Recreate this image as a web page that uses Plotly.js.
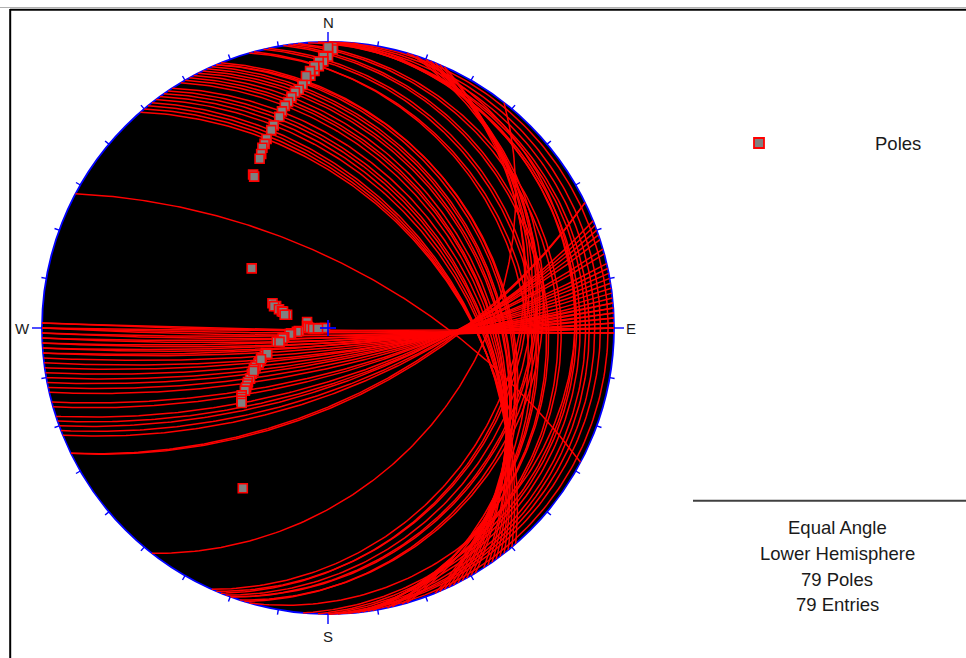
<!DOCTYPE html>
<html><head><meta charset="utf-8">
<script src="https://cdn.plot.ly/plotly-3.0.1.min.js"></script>
<style>html,body{margin:0;padding:0;background:#fff;overflow:hidden}#chart{width:966px;height:658px}</style>
</head><body><div id="chart"></div>
<script>
// Plane orientations (dip direction / dip, degrees)
const dipDirection = [
  181,181,180,180,180,179,179,178,178,177,177,176,176,175,175,174,173,172,171,170,169,168,167,165,164,162,161,160,159,158,154,154,
  128,
  114,113,112,111,110,110,108,107,
  106,95,92,90,86,88,90,90,88,
  84,83,82,81,78,77,75,74,
  68,67,66,64,63,62,61,59,57,56,55,54,53,52,51,50,49,67,65,60,
  28
];
const dip = [
  89,88.5,88,89,87,87,86,86,85,84,85,83,84,82,83,81,80,79.5,78.5,77.5,76.7,75.5,74.3,72.5,71.5,69.6,68.5,67.7,66.2,65.1,61.7,61,
  37.4,
  24,22.3,23,20.8,19.5,19,17.1,18,
  8.7,8.4,8,7.2,5.2,6,2.8,1.2,4,
  11.7,12.5,14.9,15.5,17.8,18.5,21,20,
  26.3,27,28.5,29.9,30.5,32,33,34.5,36,37.3,38,39,40,41.9,42.5,43.1,43.6,26,29,33.5,
  64.8
];
const cardinalLabels = ['N','E','S','W'];
const legendLabel = 'Poles';
const infoLines = ['Equal Angle','Lower Hemisphere','79 Poles','79 Entries'];

const D = Math.PI/180;
const W = 966, H = 658, CX = 328, CY = 328, R = 286;
const FONT = 'Arial, "Liberation Sans", sans-serif';

// great circles (equal angle, lower hemisphere)
const gx = [], gy = [];
for (let i = 0; i < dip.length; i++) {
  const dd = dipDirection[i]*D, dp = dip[i]*D, s = dd - Math.PI/2;
  const se = [Math.sin(s), Math.cos(s), 0];
  const dv = [Math.sin(dd)*Math.cos(dp), Math.cos(dd)*Math.cos(dp), -Math.sin(dp)];
  for (let a = 0; a <= 180; a += 1) {
    const ca = Math.cos(a*D), sa = Math.sin(a*D);
    const ve = ca*se[0]+sa*dv[0], vn = ca*se[1]+sa*dv[1], vz = ca*se[2]+sa*dv[2];
    const k = 1/(1 - vz);
    gx.push(ve*k); gy.push(vn*k);
  }
  gx.push(null); gy.push(null);
}
// poles
const px = [], py = [];
for (let i = 0; i < dip.length; i++) {
  const r = Math.tan(dip[i]*D/2), t = (dipDirection[i]+180)*D;
  px.push(r*Math.sin(t)); py.push(r*Math.cos(t));
}

const shapes = [];
// frame
shapes.push({type:'line',xref:'paper',yref:'paper',x0:0,x1:1,y0:1-7.5/H,y1:1-7.5/H,line:{color:'#b0b0b0',width:1}});
shapes.push({type:'line',xref:'paper',yref:'paper',x0:10/W,x1:1,y0:1-9.7/H,y1:1-9.7/H,line:{color:'#000',width:2}});
shapes.push({type:'line',xref:'paper',yref:'paper',x0:10.2/W,x1:10.2/W,y0:0,y1:1-9/H,line:{color:'#000',width:2}});
// primitive
shapes.push({type:'circle',xref:'x',yref:'y',x0:-1,x1:1,y0:-1,y1:1,fillcolor:'#000',line:{color:'#0000ff',width:1.8},layer:'below'});
// ticks every 10 degrees
for (let az = 0; az < 360; az += 10) {
  const len = (az % 90 === 0 ? 10 : 5)/R;
  const sx = Math.sin(az*D), cy = Math.cos(az*D);
  shapes.push({type:'line',xref:'x',yref:'y',x0:sx,y0:cy,x1:sx*(1+len),y1:cy*(1+len),line:{color:'#0000ff',width:1.4}});
}
// centre cross
const c = 8/R;
shapes.push({type:'line',xref:'x',yref:'y',x0:-c,x1:c,y0:0,y1:0,line:{color:'#0000ff',width:1.8}});
shapes.push({type:'line',xref:'x',yref:'y',x0:0,x1:0,y0:-c,y1:c,line:{color:'#0000ff',width:1.8}});
// legend swatch
shapes.push({type:'rect',xref:'paper',yref:'paper',x0:754/W,x1:764/W,y0:1-148/H,y1:1-138/H,fillcolor:'#808080',line:{color:'#ff0000',width:1.8}});
// separator
shapes.push({type:'line',xref:'paper',yref:'paper',x0:693/W,x1:1,y0:1-500.7/H,y1:1-500.7/H,line:{color:'#404040',width:2}});

const annotations = [];
const cardPos = [[0,(CY-22)/R],[(631-CX)/R,0],[0,-(636-CY)/R],[-(CX-22)/R,0]];
cardinalLabels.forEach((t,i)=>annotations.push({x:cardPos[i][0],y:cardPos[i][1],xref:'x',yref:'y',text:t,showarrow:false,xanchor:'center',yanchor:'middle',font:{family:FONT,size:15,color:'#1a1a1a'}}));
annotations.push({x:898/W,y:1-143/H,xref:'paper',yref:'paper',text:legendLabel,showarrow:false,xanchor:'center',yanchor:'middle',font:{family:FONT,size:18.5,color:'#1a1a1a'}});
const rowsY = [527,553,579,604];
infoLines.forEach((t,i)=>annotations.push({x:837/W,y:1-rowsY[i]/H,xref:'paper',yref:'paper',text:t,showarrow:false,xanchor:'center',yanchor:'middle',font:{family:FONT,size:18.5,color:'#1a1a1a'}}));

const traces = [
  {type:'scatter',mode:'lines',x:gx,y:gy,line:{color:'#ff0000',width:1.5},hoverinfo:'skip',showlegend:false,connectgaps:false},
  {type:'scatter',mode:'markers',x:px,y:py,marker:{symbol:'square',size:9,color:'#808080',line:{color:'#ff0000',width:1.6}},showlegend:false,name:legendLabel}
];
const layout = {
  width:W,height:H,margin:{l:0,r:0,t:0,b:0},paper_bgcolor:'#fff',plot_bgcolor:'rgba(0,0,0,0)',
  xaxis:{range:[-CX/R,(W-CX)/R],visible:false,showgrid:false,zeroline:false,fixedrange:true},
  yaxis:{range:[-(H-CY)/R,CY/R],visible:false,showgrid:false,zeroline:false,fixedrange:true},
  shapes:shapes,annotations:annotations,showlegend:false
};
Plotly.newPlot('chart',traces,layout,{staticPlot:true,displayModeBar:false});
</script></body></html>
